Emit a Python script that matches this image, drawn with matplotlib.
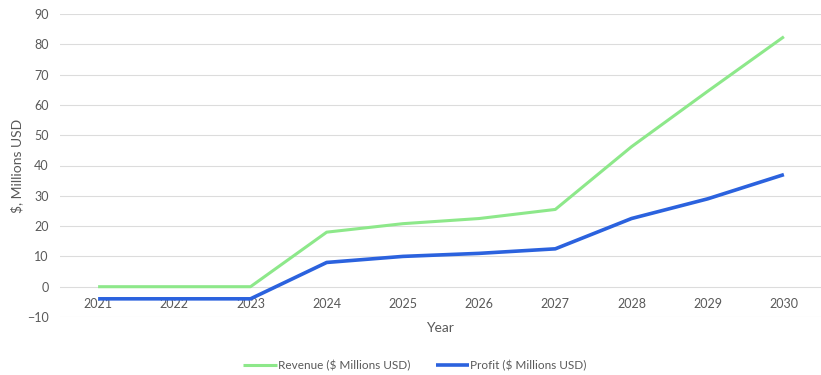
import matplotlib.pyplot as plt

years = ['2021', '2022', '2023', '2024', '2025', '2026', '2027', '2028', '2029', '2030']
revenue = [0, 0, 0, 18, 20.8, 22.5, 25.5, 46.2, 64.5, 82.5]
profit = [-4, -4, -4, 8, 10, 11, 12.5, 22.5, 29, 37]

plt.rcParams['font.family'] = ['Lato', 'DejaVu Sans']
text_color = '#595959'

fig = plt.figure(figsize=(8.21, 3.75), dpi=100)
ax = fig.add_axes([60 / 821, 1 - 317 / 375, 762 / 821, 303 / 375])

x = range(len(years))
ax.plot(x, revenue, color='#8de88a', lw=2.2, label='Revenue ($ Millions USD)', solid_capstyle='butt')
ax.plot(x, profit, color='#2b62de', lw=2.6, label='Profit ($ Millions USD)', solid_capstyle='butt')

ax.set_xlim(-0.5, 9.5)
ax.set_ylim(-10, 90)
ax.set_yticks(range(-10, 91, 10))
ax.grid(axis='y', color='#dcdcdc', lw=0.8)
ax.set_axisbelow(True)
for s in ['top', 'right', 'left']:
    ax.spines[s].set_visible(False)
# category axis crosses at zero, like Excel
ax.spines['bottom'].set_position(('data', 0))
ax.spines['bottom'].set_visible(False)
ax.set_xticks(list(x))
ax.set_xticklabels(years)
ax.tick_params(axis='both', length=0, labelsize=9, colors=text_color)
ax.tick_params(axis='x', pad=8)
ax.tick_params(axis='y', pad=8)

ax.set_ylabel('$, Millions USD', fontsize=10, color=text_color, labelpad=3)
fig.text(0.536, 1 - 328 / 375, 'Year', ha='center', va='center', fontsize=10, color=text_color)

ax.legend(loc='center', bbox_to_anchor=(0.466, -0.16), bbox_transform=ax.transAxes, ncol=2,
          frameon=False, fontsize=8.5, labelcolor=text_color, handlelength=2.8,
          handletextpad=0.1, columnspacing=2.2)

fig.savefig('out.png', dpi=100)
